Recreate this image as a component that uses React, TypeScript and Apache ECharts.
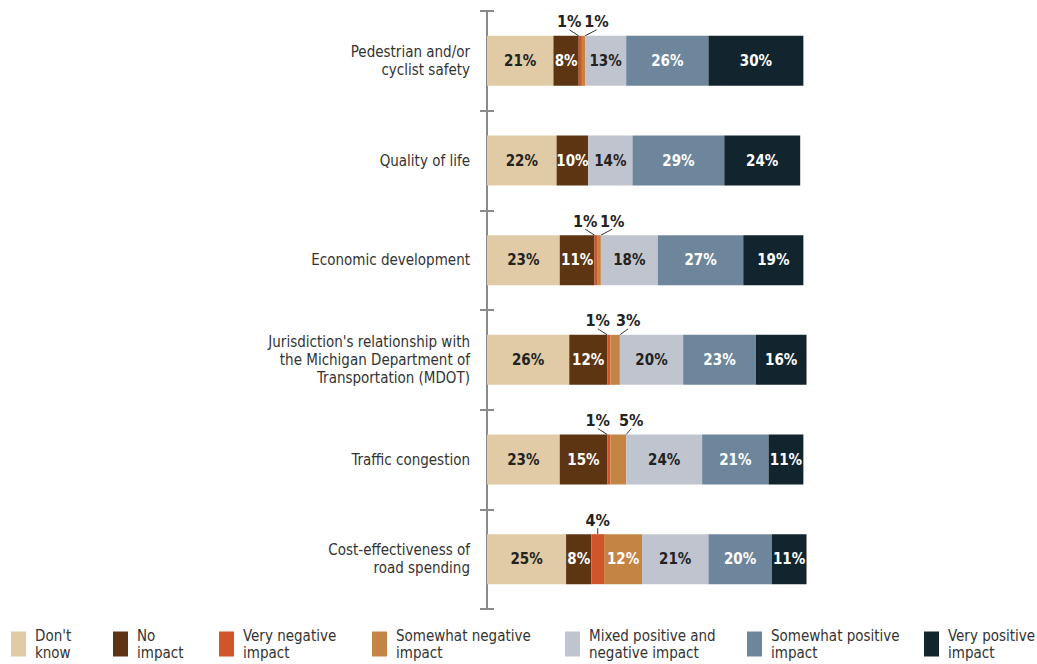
import React, { useEffect, useRef } from "react";
import * as echarts from "echarts";

const categories = [
  "Pedestrian and/or\ncyclist safety",
  "Quality of life",
  "Economic development",
  "Jurisdiction's relationship with\nthe Michigan Department of\nTransportation (MDOT)",
  "Traffic congestion",
  "Cost-effectiveness of\nroad spending",
];

const seriesNames = [
  "Don't know",
  "No impact",
  "Very negative impact",
  "Somewhat negative impact",
  "Mixed positive and negative impact",
  "Somewhat positive impact",
  "Very positive impact",
];

const legendLabels = [
  "Don't\nknow",
  "No\nimpact",
  "Very negative\nimpact",
  "Somewhat negative\nimpact",
  "Mixed positive and\nnegative impact",
  "Somewhat positive\nimpact",
  "Very positive\nimpact",
];

const dontKnow = [21, 22, 23, 26, 23, 25];
const noImpact = [8, 10, 11, 12, 15, 8];
const veryNegative = [1, 0, 1, 1, 1, 4];
const somewhatNegative = [1, 0, 1, 3, 5, 12];
const mixed = [13, 14, 18, 20, 24, 21];
const somewhatPositive = [26, 29, 27, 23, 21, 20];
const veryPositive = [30, 24, 19, 16, 11, 11];

const seriesValues = [dontKnow, noImpact, veryNegative, somewhatNegative, mixed, somewhatPositive, veryPositive];

const colors = ["#e0cba6", "#5e3512", "#d0552a", "#c38444", "#c0c4ce", "#6e869c", "#12252f"];
const labelColors = ["#222222", "#ffffff", "#ffffff", "#ffffff", "#222222", "#ffffff", "#ffffff"];
const legendLefts = [11, 113, 219, 372, 565, 747, 924];

const FONT = "'Liberation Sans Narrow', 'DejaVu Sans Condensed', 'Roboto Condensed', Arial, sans-serif";
const SMALL = 5;

export default function App() {
  const ref = useRef<HTMLDivElement>(null);
  useEffect(() => {
    if (!ref.current) return;
    const chart = echarts.init(ref.current, undefined, { renderer: "svg" });

    const series = seriesValues.map((vals, si) => ({
      name: seriesNames[si],
      type: "bar",
      stack: "total",
      yAxisIndex: 0,
      barWidth: 50,
      itemStyle: { color: colors[si] },
      label: {
        show: true,
        position: "inside",
        color: labelColors[si],
        fontFamily: FONT,
        fontWeight: "bold",
        fontSize: 15,
        formatter: (p: any) => (p.value > 0 ? p.value + "%" : ""),
      },
      labelLayout: (p: any) => {
        const v = seriesValues[p.seriesIndex][p.dataIndex];
        if (!(p.seriesIndex === 2 || p.seriesIndex === 3) || v <= 0 || v > SMALL) return {};
        if (p.seriesIndex === 2) {
          const otherSmall = somewhatNegative[p.dataIndex] > 0 && somewhatNegative[p.dataIndex] <= SMALL;
          return { dx: otherSmall ? -11 : 0 };
        }
        return { dx: 13 };
      },
      data: vals.map((v) => {
        if ((si === 2 || si === 3) && v > 0 && v <= SMALL) {
          return {
            value: v,
            label: {
              position: "top",
              distance: 6,
              color: "#222222",
              fontSize: 16,
            },
            labelLine: { show: true, lineStyle: { color: "#333333", width: 1 } },
          };
        }
        return { value: v };
      }),
    }));

    const legends = seriesNames.map((name, i) => ({
      left: legendLefts[i],
      top: 627,
      padding: 0,
      itemWidth: 15,
      itemHeight: 25,
      icon: "rect",
      selectedMode: false,
      data: [name],
      formatter: () => legendLabels[i],
      textStyle: { fontFamily: FONT, fontSize: 15, color: "#333333", lineHeight: 17, padding: [0, 0, 0, 4] },
    }));

    chart.setOption({
      animation: false,
      grid: { left: 487, top: 11, bottom: 55, width: 348 },
      xAxis: { type: "value", min: 0, max: 110, show: false },
      yAxis: [
        {
          type: "category",
          inverse: true,
          data: categories,
          axisLine: { show: true, lineStyle: { color: "#8a8a8a", width: 2 } },
          axisTick: { show: true, length: 7, lineStyle: { color: "#8a8a8a", width: 2 } },
          axisLabel: {
            margin: 17,
            color: "#333333",
            fontFamily: FONT,
            fontSize: 15,
            lineHeight: 18,
            align: "right",
          },
          splitLine: { show: false },
        },
        {
          type: "category",
          inverse: true,
          position: "left",
          data: categories,
          axisLine: { show: false },
          axisTick: { show: true, inside: true, length: 7, lineStyle: { color: "#8a8a8a", width: 2 } },
          axisLabel: { show: false },
          splitLine: { show: false },
        },
      ],
      legend: legends,
      series,
    });
    return () => chart.dispose();
  }, []);
  return <div ref={ref} style={{ width: 1037, height: 664, position: "absolute", left: 0, top: 0 }} />;
}
